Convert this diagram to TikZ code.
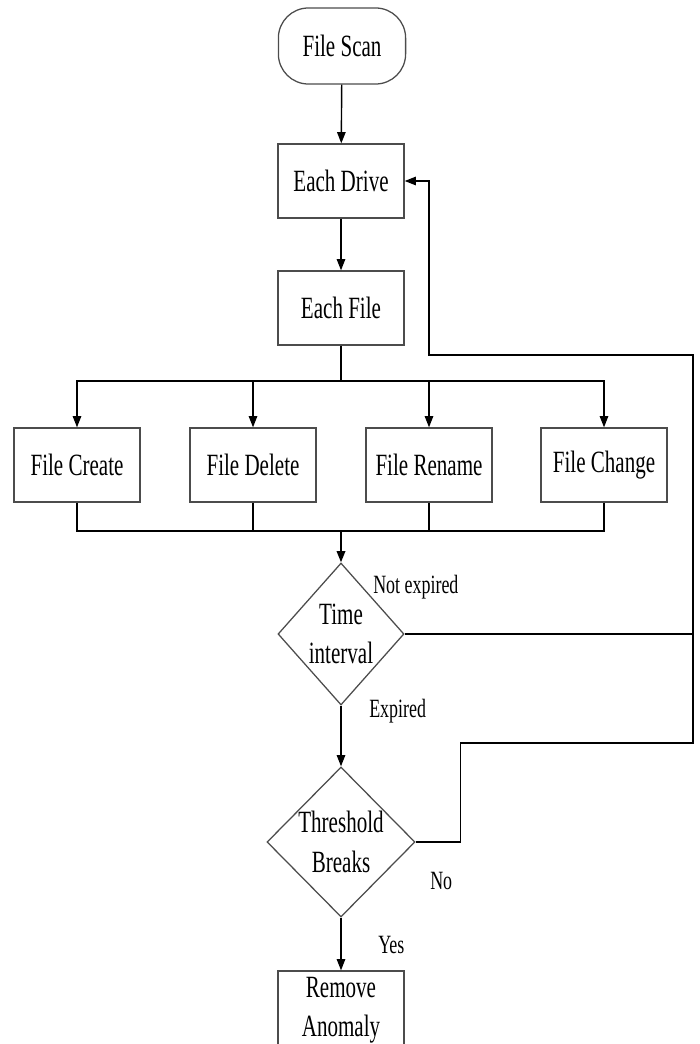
\documentclass[tikz,border=0pt]{standalone}
\usepackage{fontspec}
\setmainfont{Liberation Serif}[FakeStretch=0.68]
\usetikzlibrary{shapes.geometric,arrows.meta}

\begin{document}
\begin{tikzpicture}[x=0.025cm,y=-0.025cm]
    % Node styles
    \tikzset{
      process box/.style={rectangle,draw=black!70,line width=0.9pt,minimum width=3.15cm,minimum height=1.85cm,inner sep=2pt,align=center,font=\fontsize{22}{28}\selectfont},
      terminal/.style={process box,rounded corners=0.75cm,minimum width=3.18cm,minimum height=1.9cm},
      decision/.style={diamond,draw=black!70,line width=0.9pt,inner sep=0pt,align=center,font=\fontsize{22}{28}\selectfont},
      flow line/.style={draw=black,line width=1pt},
      flow arrow/.style={flow line,-{Triangle[length=8pt,width=6pt]}},
      side label/.style={anchor=west,inner sep=0pt,font=\fontsize{18.75}{20}\selectfont}
    }
    \useasboundingbox (0,0) rectangle (699,1044);

    % --- Top: start and the two loops ---
    \node[terminal] (scan) at (342,46) {File Scan};
    \node[process box] (drive) at (341,181) {Each Drive};
    \node[process box] (file) at (341,308) {Each File};

    \draw[flow arrow] (scan) -- (drive);
    \draw[flow arrow] (drive) -- (file);

    % --- Four file events ---
    \node[process box] (create) at (77,465) {File Create};
    \node[process box] (delete) at (253,465) {File Delete};
    \node[process box] (rename) at (429,465) {File Rename};
    \node[process box] (change) at (604,465) {File Change};

    \coordinate (split) at (341,381);
    \coordinate (merge) at (341,531);

    \draw[flow line,line width=1.4pt] (file) -- (split);
    \foreach \ev in {create,delete,rename,change}
      \draw[flow arrow] (split) -| (\ev.north);
    \foreach \ev in {create,delete,rename,change}
      \draw[flow line] (\ev.south) |- (merge);

    % --- Decisions ---
    \node[decision,minimum width=3.15cm,minimum height=3.55cm] (time) at (341,634) {Time\\interval};
    \node[decision,minimum width=3.7cm,minimum height=3.75cm] (thresh) at (341,842) {Threshold\\Breaks};
    \node[process box,minimum height=1.95cm] (remove) at (341,1010) {Remove\\Anomaly};

    \draw[flow arrow,line width=1.4pt] (merge) -- (time);
    \draw[flow arrow] (time) -- (thresh);
    \draw[flow arrow] (thresh) -- (remove);

    % --- Feedback to Each Drive ---
    \coordinate (loopR) at (693,743);
    \coordinate (loopT) at (429,355);
    \draw[flow line] (time.east) -- (time.east -| loopR);
    \draw[flow arrow] (thresh.east) -- ++(45,0) |- (loopR) |- (loopT) |- (drive.east);

    % Labels
    \node[side label] at (373,587) {Not expired};
    \node[side label] at (369,711) {Expired};
    \node[side label] at (430,881) {No};
    \node[side label] at (378,945) {Yes};
\end{tikzpicture}
\end{document}
